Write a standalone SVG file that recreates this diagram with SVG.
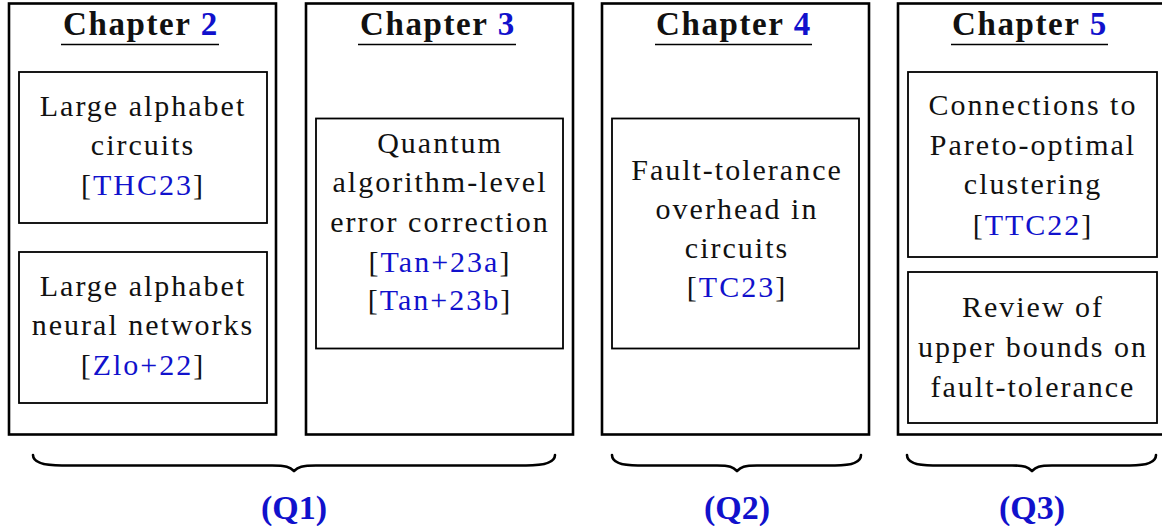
<svg xmlns="http://www.w3.org/2000/svg" width="1162" height="526" viewBox="0 0 1162 526">
<style>
.outer{fill:#fff;stroke:#000;stroke-width:2.6}
.inner{fill:none;stroke:#000;stroke-width:1.8}
text{font-family:'Liberation Serif','Times New Roman',serif}
.t{font-size:30px;letter-spacing:2px;text-anchor:middle;fill:#111}
.h{font-size:33px;font-weight:bold;letter-spacing:1.6px;text-anchor:middle;fill:#111}
.b{fill:#1111cc}
.ul{stroke:#000;stroke-width:1.4}
.brace{fill:none;stroke:#000;stroke-width:2.6;stroke-linecap:round;stroke-linejoin:round}
.q{font-size:34px;font-weight:bold;text-anchor:middle;fill:#1111cc}
</style>
<rect width="1162" height="526" fill="#fff"/>
<g id="chapter2">
<rect class="outer" x="9" y="3.5" width="267" height="431"/>
<text class="h" x="141" y="35">Chapter <tspan class="b">2</tspan></text>
<line class="ul" x1="61" y1="44.5" x2="219" y2="44.5"/>
</g>
<g id="ch2-circuits">
<rect class="inner" x="19" y="72" width="248" height="151"/>
<text class="t" x="143" y="116">Large alphabet</text>
<text class="t" x="143" y="155">circuits</text>
<text class="t" x="143" y="195">[<tspan class="b">THC23</tspan>]</text>
</g>
<g id="ch2-neural">
<rect class="inner" x="19" y="252" width="248" height="151"/>
<text class="t" x="143" y="296">Large alphabet</text>
<text class="t" x="143" y="335">neural networks</text>
<text class="t" x="143" y="375">[<tspan class="b">Zlo+22</tspan>]</text>
</g>
<g id="chapter3">
<rect class="outer" x="306" y="3.5" width="267" height="431"/>
<text class="h" x="438" y="35">Chapter <tspan class="b">3</tspan></text>
<line class="ul" x1="358" y1="44.5" x2="516" y2="44.5"/>
</g>
<g id="ch3-qec">
<rect class="inner" x="316" y="118.5" width="247" height="230"/>
<text class="t" x="440" y="153">Quantum</text>
<text class="t" x="440" y="192">algorithm-level</text>
<text class="t" x="440" y="232">error correction</text>
<text class="t" x="440" y="272">[<tspan class="b">Tan+23a</tspan>]</text>
<text class="t" x="440" y="310">[<tspan class="b">Tan+23b</tspan>]</text>
</g>
<g id="chapter4">
<rect class="outer" x="602" y="3.5" width="267" height="431"/>
<text class="h" x="734" y="35">Chapter <tspan class="b">4</tspan></text>
<line class="ul" x1="655" y1="44.5" x2="812" y2="44.5"/>
</g>
<g id="ch4-ft">
<rect class="inner" x="612" y="118.5" width="247" height="230"/>
<text class="t" x="737" y="180">Fault-tolerance</text>
<text class="t" x="737" y="219">overhead in</text>
<text class="t" x="737" y="258">circuits</text>
<text class="t" x="737" y="297">[<tspan class="b">TC23</tspan>]</text>
</g>
<g id="chapter5">
<rect class="outer" x="898" y="3.5" width="270" height="431"/>
<text class="h" x="1030" y="35">Chapter <tspan class="b">5</tspan></text>
<line class="ul" x1="951" y1="44.5" x2="1108" y2="44.5"/>
</g>
<g id="ch5-pareto">
<rect class="inner" x="908" y="72" width="249" height="185"/>
<text class="t" x="1033" y="115">Connections to</text>
<text class="t" x="1033" y="155">Pareto-optimal</text>
<text class="t" x="1033" y="194">clustering</text>
<text class="t" x="1033" y="235">[<tspan class="b">TTC22</tspan>]</text>
</g>
<g id="ch5-review">
<rect class="inner" x="908" y="272" width="249" height="151"/>
<text class="t" x="1033" y="317">Review of</text>
<text class="t" x="1033" y="357">upper bounds on</text>
<text class="t" x="1033" y="397">fault-tolerance</text>
</g>
<g id="braces">
<path class="brace" d="M33 455 C33 463 45 465.5 62 465.5 L272 465.5 C286 465.5 290 467 294 471 C298 467 302 465.5 316 465.5 L526 465.5 C543 465.5 555 463 555 455"/>
<path class="brace" d="M612 455 C612 463 622 465.5 638 465.5 L717 465.5 C730 465.5 733 467 737 471 C741 467 744 465.5 757 465.5 L835 465.5 C851 465.5 861 463 861 455"/>
<path class="brace" d="M907 455 C907 463 917 465.5 933 465.5 L1012 465.5 C1025 465.5 1028 467 1032 471 C1036 467 1039 465.5 1052 465.5 L1130 465.5 C1146 465.5 1156 463 1156 455"/>
</g>
<g id="q1"><text class="q" x="294" y="519">(Q1)</text></g>
<g id="q2"><text class="q" x="737" y="519">(Q2)</text></g>
<g id="q3"><text class="q" x="1032" y="519">(Q3)</text></g>
</svg>
